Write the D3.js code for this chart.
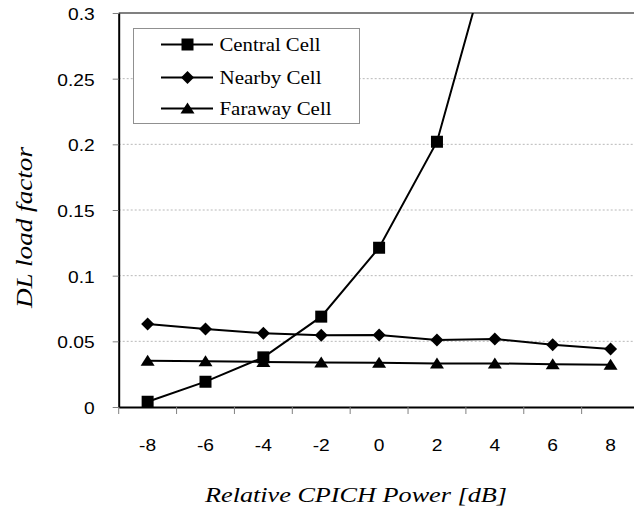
<!DOCTYPE html>
<html><head><meta charset="utf-8">
<script src="https://cdn.jsdelivr.net/npm/d3@7"></script>
<style>
body{margin:0;background:#fff;}svg{display:block;}
.sans{font-family:"Liberation Sans", Arial, Helvetica, sans-serif;}
.serif{font-family:"Liberation Serif", "Times New Roman", Times, serif;}
</style>
</head><body><svg id="c" width="634" height="513"></svg>
<script>
const categories = ["-8","-6","-4","-2","0","2","4","6","8"];
const centralCell = [0.004, 0.0193, 0.0378, 0.0688, 0.1213, 0.202, 0.36, null, null];
const nearbyCell  = [0.0632, 0.0594, 0.0561, 0.0546, 0.0548, 0.051, 0.0518, 0.0474, 0.0442];
const farawayCell = [0.0353, 0.0348, 0.0343, 0.0338, 0.0336, 0.0332, 0.0332, 0.0325, 0.0322];
const yTicks = [0, 0.05, 0.1, 0.15, 0.2, 0.25, 0.3];
const seriesNames = ["Central Cell", "Nearby Cell", "Faraway Cell"];

const svg = d3.select("#c");
const L = 118.7, R = 639.5, T = 13, B = 407;
const x = d3.scaleBand().domain(categories).range([L, R]);
const y = d3.scaleLinear().domain([0, 0.3]).range([B, T]);

svg.append("defs").append("clipPath").attr("id","clip")
  .append("rect").attr("x", L).attr("y", T).attr("width", R - L).attr("height", B - T);

// gridlines
svg.append("g").selectAll("line").data(yTicks.filter(t => t > 0 && t < 0.3)).join("line")
  .attr("x1", L).attr("x2", R).attr("y1", d => y(d)).attr("y2", d => y(d))
  .attr("stroke", "#b8b8b8").attr("stroke-width", 1).attr("stroke-dasharray", "2,2");
// top border
svg.append("line").attr("x1", L).attr("x2", R).attr("y1", y(0.3)).attr("y2", y(0.3))
  .attr("stroke", "#808080").attr("stroke-width", 2);

// axes
const yAxis = svg.append("g").attr("transform", `translate(${L},0)`)
  .call(d3.axisLeft(y).tickValues(yTicks).tickFormat(d => d === 0 ? "0" : String(+d.toFixed(2))).tickSizeInner(6).tickSizeOuter(0).tickPadding(15));
yAxis.select(".domain").attr("stroke", "#000").attr("stroke-width", 2);
yAxis.selectAll(".tick line").attr("stroke", "#808080");
yAxis.selectAll("text").attr("class", "sans").attr("font-size", 16).attr("fill", "#000")
  .attr("x", 0).attr("dy", "0.4em").attr("transform", "translate(-24,0) scale(1.2,1)");

const xAxis = svg.append("g").attr("transform", `translate(0,${B})`)
  .call(d3.axisBottom(x).tickSize(0).tickPadding(33));
xAxis.select(".domain").attr("stroke", "#000").attr("stroke-width", 2);
xAxis.selectAll("text").attr("class", "sans").attr("font-size", 16).attr("fill", "#000")
  .attr("transform", "scale(1.2,1)");
svg.selectAll("g").attr("font-family", null);
// category boundary ticks
const bounds = categories.map(c => x(c)).concat([x(categories[categories.length-1]) + x.bandwidth()]);
svg.append("g").selectAll("line").data(bounds).join("line")
  .attr("x1", d => d).attr("x2", d => d).attr("y1", B).attr("y2", B + 7)
  .attr("stroke", "#808080").attr("stroke-width", 1);

// marker shapes
const squarePath = "M-6,-6H6V6H-6Z";
const diamondPath = "M0,-6.5L6.5,0L0,6.5L-6.5,0Z";
const trianglePath = "M0,-6L7,5H-7Z";
const syms = [squarePath, diamondPath, trianglePath];

// series
const cx = (c) => x(c) + x.bandwidth() / 2;
const line = d3.line().defined(d => d[1] != null).x(d => cx(d[0])).y(d => y(d[1]));
const plot = svg.append("g").attr("clip-path", "url(#clip)");
const allSeries = [centralCell, nearbyCell, farawayCell];
allSeries.forEach(vals => {
  plot.append("path").datum(categories.map((c, i) => [c, vals[i]]))
    .attr("d", line).attr("fill", "none").attr("stroke", "#000").attr("stroke-width", 2);
});
allSeries.forEach((vals, k) => {
  plot.append("g").selectAll("path").data(categories.map((c, i) => [c, vals[i]]).filter(d => d[1] != null)).join("path")
    .attr("transform", d => `translate(${cx(d[0])},${y(d[1])})`)
    .attr("d", syms[k]).attr("fill", "#000");
});

// legend
const lg = svg.append("g");
lg.append("rect").attr("x", 133.5).attr("y", 28.5).attr("width", 226).attr("height", 95)
  .attr("fill", "#fff").attr("stroke", "#909090").attr("stroke-width", 1);
const rowsY = [44.5, 77.5, 108.5];
const textW = [101, 102, 112];
seriesNames.forEach((n, k) => {
  lg.append("line").attr("x1", 161).attr("x2", 213).attr("y1", rowsY[k]).attr("y2", rowsY[k])
    .attr("stroke", "#000").attr("stroke-width", 2);
  lg.append("path").attr("transform", `translate(187.5,${rowsY[k]})`).attr("d", syms[k]).attr("fill", "#000");
  lg.append("text").attr("class", "serif").attr("x", 219.5).attr("y", rowsY[k] + 6.5).text(n)
    .attr("font-size", 18).attr("textLength", textW[k]).attr("lengthAdjust", "spacingAndGlyphs").attr("fill", "#000");
});

// axis titles
svg.append("text").attr("class", "serif").attr("x", 205).attr("y", 502)
  .attr("font-style", "italic").attr("font-size", 22).attr("textLength", 302).attr("lengthAdjust", "spacingAndGlyphs")
  .attr("fill", "#000").text("Relative CPICH Power [dB]");
svg.append("text").attr("class", "serif").attr("transform", "translate(31.5,308) rotate(-90)")
  .attr("font-style", "italic").attr("font-size", 24).attr("textLength", 161).attr("lengthAdjust", "spacingAndGlyphs")
  .attr("fill", "#000").text("DL load factor");
</script></body></html>
